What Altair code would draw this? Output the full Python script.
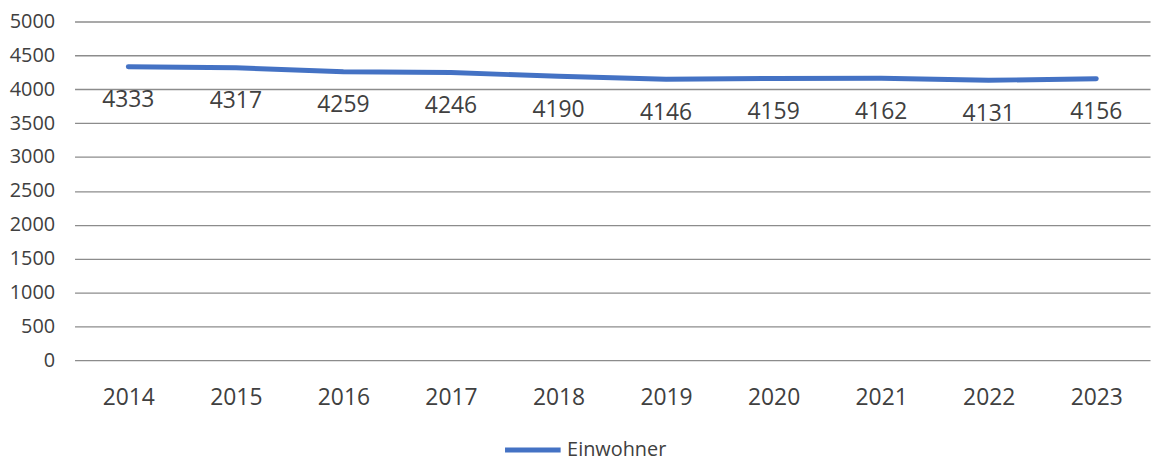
import altair as alt
import pandas as pd

years = ["2014", "2015", "2016", "2017", "2018", "2019", "2020", "2021", "2022", "2023"]
values = [4333, 4317, 4259, 4246, 4190, 4146, 4159, 4162, 4131, 4156]
series = ["Einwohner"] * len(years)
y_ticks = [0, 500, 1000, 1500, 2000, 2500, 3000, 3500, 4000, 4500, 5000]

df = pd.DataFrame({"Jahr": years, "Wert": values, "Reihe": series})

FONT = "Open Sans"
TXT = "#404040"

x = alt.X("Jahr:N", sort=years, scale=alt.Scale(type="point", padding=0.5),
          axis=alt.Axis(title=None, labelAngle=0, domain=False, ticks=False, labelPadding=27,
                        labelFontSize=23, labelColor=TXT, labelFont=FONT, grid=False))
y = alt.Y("Wert:Q", scale=alt.Scale(domain=[0, 5000], nice=False),
          axis=alt.Axis(title=None, values=y_ticks, format="d", labelOverlap=False, domain=False, ticks=False,
                        labelPadding=20, labelFontSize=20, labelColor=TXT, labelFont=FONT,
                        grid=True, gridColor="#8c8c8c", gridWidth=1.3))

base = alt.Chart(df)

line = base.mark_line(strokeWidth=5, strokeCap="round", strokeJoin="round").encode(
    x=x, y=y,
    color=alt.Color("Reihe:N", scale=alt.Scale(domain=["Einwohner"], range=["#4472C4"]),
                    legend=alt.Legend(title=None, orient="none", legendX=431, legendY=401,
                                      symbolType="stroke", symbolSize=3136, symbolStrokeWidth=5,
                                      symbolStrokeColor="#4472C4",
                                      labelFontSize=20, labelColor=TXT, labelFont=FONT,
                                      labelOffset=4, padding=0))
)

labels = base.mark_text(dy=34, baseline="middle", align="center", fontSize=23, font=FONT, color=TXT).encode(
    x=x, y=y, text="Wert:Q"
)

chart = alt.layer(line, labels).properties(
    width=1083, height=341,
    autosize=alt.AutoSizeParams(type="none"),
    padding={"left": 67, "top": 12, "right": 3, "bottom": 100},
).configure_view(stroke=None)

chart.save("out.html", embed_options={"renderer": "svg", "actions": False})
